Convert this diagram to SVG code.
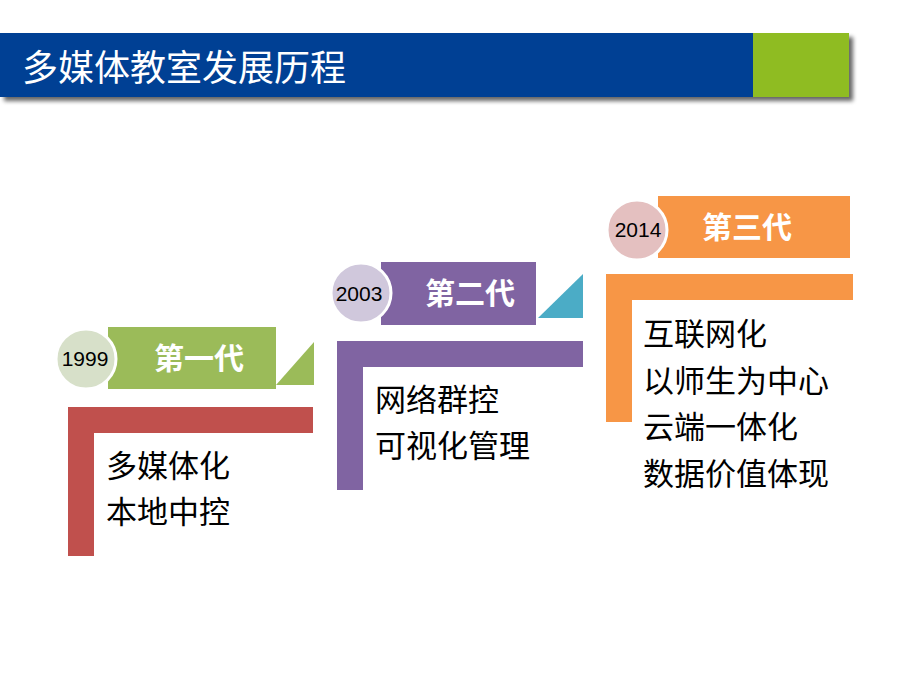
<svg xmlns="http://www.w3.org/2000/svg" width="920" height="690" viewBox="0 0 920 690">
<defs>
<style>
.title{font-family:"Liberation Sans","Noto Sans CJK SC",sans-serif;font-size:36px;fill:#ffffff}
.gen{font-family:"Liberation Sans","Noto Sans CJK SC",sans-serif;font-size:30px;font-weight:bold;fill:#ffffff;text-anchor:middle}
.year{font-family:"Liberation Sans","Noto Sans CJK SC",sans-serif;font-size:21px;fill:#000000;text-anchor:middle}
.body{font-family:"Liberation Sans","Noto Sans CJK SC",sans-serif;font-size:31px;fill:#000000}
.circ{stroke:#ffffff;stroke-width:3}
</style>
<filter id="sh" x="-5%" y="-20%" width="115%" height="150%">
<feGaussianBlur in="SourceAlpha" stdDeviation="2"/>
<feOffset dx="4" dy="4"/>
<feComponentTransfer><feFuncA type="linear" slope="0.6"/></feComponentTransfer>
<feMerge><feMergeNode/><feMergeNode in="SourceGraphic"/></feMerge>
</filter>
</defs>
<rect width="920" height="690" fill="#ffffff"/>
<g id="header" filter="url(#sh)">
<rect x="0" y="33" width="753" height="64" fill="#003f94"/>
<rect x="753" y="33" width="96" height="64" fill="#8fbc21"/>
</g>
<text class="title" x="22" y="81">多媒体教室发展历程</text>

<g id="gen1">
<rect x="108" y="327" width="168" height="62" fill="#9bbb59"/>
<polygon points="276,385 314,342 314,385" fill="#9bbb59"/>
<circle class="circ" cx="86" cy="359" r="30" fill="#d7e0c9"/>
<text class="year" x="85" y="366">1999</text>
<text class="gen" x="199" y="369">第一代</text>
<path d="M68,407 H313 V433 H94 V556 H68 Z" fill="#c0504d"/>
<text class="body" x="106" y="477">多媒体化</text>
<text class="body" x="106" y="523">本地中控</text>
</g>

<g id="gen2">
<rect x="381" y="262" width="155" height="63" fill="#8064a2"/>
<polygon points="538,318 583,274 583,318" fill="#4bacc6"/>
<circle class="circ" cx="361" cy="293" r="30" fill="#d0c8dc"/>
<text class="year" x="359" y="301">2003</text>
<text class="gen" x="470" y="304">第二代</text>
<path d="M337,341 H583 V367 H363 V490 H337 Z" fill="#8064a2"/>
<text class="body" x="375" y="411">网络群控</text>
<text class="body" x="375" y="457">可视化管理</text>
</g>

<g id="gen3">
<rect x="658" y="196" width="192" height="62" fill="#f79646"/>
<circle class="circ" cx="637" cy="230" r="30" fill="#e4c0c0"/>
<text class="year" x="638" y="237">2014</text>
<text class="gen" x="747" y="238">第三代</text>
<path d="M606,274 H853 V300 H632 V422 H606 Z" fill="#f79646"/>
<text class="body" x="643" y="345">互联网化</text>
<text class="body" x="643" y="392">以师生为中心</text>
<text class="body" x="643" y="438">云端一体化</text>
<text class="body" x="643" y="485">数据价值体现</text>
</g>
<g id="connectors"></g>
</svg>
